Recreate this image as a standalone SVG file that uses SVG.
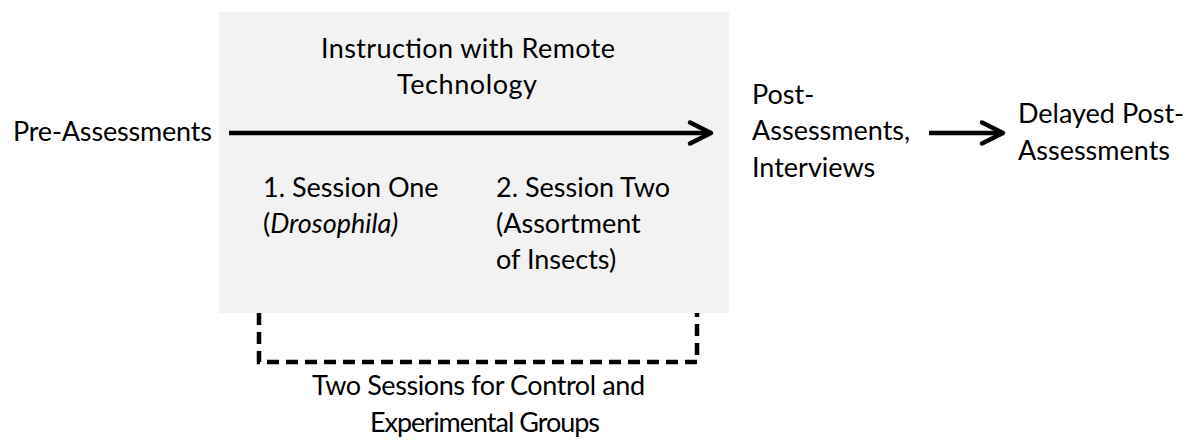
<svg xmlns="http://www.w3.org/2000/svg" width="1188" height="442" viewBox="0 0 1188 442">
  <style>
    text { font-family: Lato, "Open Sans", "Liberation Sans", sans-serif; font-size: 27px; fill: #000; }
    .mid { text-anchor: middle; }
    .flow { stroke: #000; stroke-width: 4.5; fill: none; }
    .bracket { stroke: #000; stroke-width: 4.5; fill: none; stroke-dasharray: 12 7; }
    .panel { fill: #f2f2f2; }
  </style>
  <defs>
    <marker id="chevron" markerUnits="userSpaceOnUse" markerWidth="30" markerHeight="30" refX="23" refY="15" orient="auto" overflow="visible">
      <path d="M5,4.5 L26,15 L5,25.5" stroke="#000" stroke-width="4.5" fill="none" stroke-linecap="round" stroke-linejoin="round"/>
    </marker>
  </defs>

  <g id="instruction">
    <rect class="panel" x="219" y="12" width="510" height="301"/>
    <text class="mid" x="468" y="58" textLength="294">Instruction with Remote</text>
    <text class="mid" x="467" y="94" textLength="140">Technology</text>
  </g>

  <g id="session-one">
    <text x="263" y="197">1. Session One</text>
    <text x="263" y="233">(<tspan font-style="italic">Drosophila)</tspan></text>
  </g>

  <g id="session-two">
    <text x="496" y="197">2. Session Two</text>
    <text x="496" y="233">(Assortment</text>
    <text x="496" y="269">of Insects)</text>
  </g>

  <g id="pre-assessments">
    <text x="13" y="141" textLength="199">Pre-Assessments</text>
  </g>

  <g id="post-assessments">
    <text x="752" y="104">Post-</text>
    <text x="752" y="140">Assessments,</text>
    <text x="752" y="177">Interviews</text>
  </g>

  <g id="delayed-post-assessments">
    <text x="1018" y="123">Delayed Post-</text>
    <text x="1018" y="160">Assessments</text>
  </g>

  <g id="groups-note">
    <text class="mid" x="478.5" y="395" textLength="333">Two Sessions for Control and</text>
    <text class="mid" x="485" y="432" textLength="230">Experimental Groups</text>
  </g>

  <g id="connectors">
    <line class="flow" x1="229" y1="133" x2="708" y2="133" marker-end="url(#chevron)"/>
    <line class="flow" x1="929" y1="133" x2="1000" y2="133" marker-end="url(#chevron)"/>
    <path class="bracket" d="M259,313 L259,362 L697,362 L697,313"/>
  </g>
</svg>
